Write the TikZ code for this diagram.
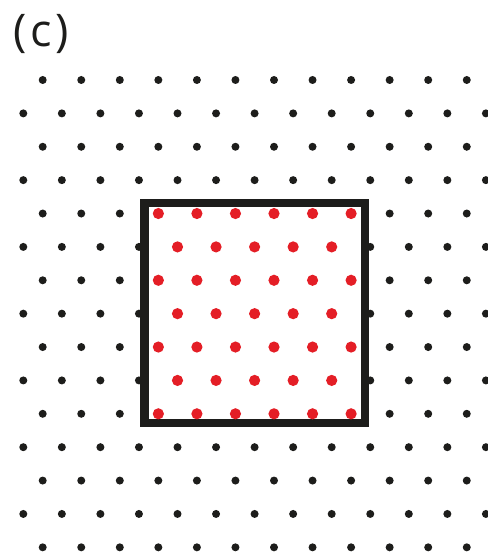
\documentclass[tikz,border=0pt]{standalone}
\usepackage{fontspec}
\setmainfont{Open Sans}
\definecolor{inkblack}{HTML}{1D1D1B}
\definecolor{inkred}{HTML}{E41E26}
\usetikzlibrary{positioning}
\tikzstyle{latticedot} = [fill=inkblack]
\tikzstyle{celldot} = [fill=inkred]
\tikzstyle{cellbox} = [
    draw=inkblack,
    line width=8.2pt,
    line join=miter
]
\tikzstyle{panellabel} = [
    inner sep=0pt,
    text=inkblack,
    font=\fontsize{45}{50}\selectfont\addfontfeature{LetterSpace=8}
]

\begin{document}
\begin{tikzpicture}[x=1pt, y=-1pt]
    \useasboundingbox (0,0) rectangle (487,556);

    % Panel label
    \node[panellabel, anchor=west] (label) at (13,34.5) {(c)};

    % Lattice, black sites
    \foreach \r in {0,...,14} {
        \pgfmathsetmacro{\yy}{80+33.38*\r}
        \pgfmathsetmacro{\xo}{mod(\r,2)==0 ? 42.7 : 23.3}
        \pgfmathtruncatemacro{\nmax}{mod(\r,2)==0 ? 11 : 12}
        \foreach \c in {0,...,\nmax} {
            \pgfmathsetmacro{\xx}{\xo+38.55*\c}
            \pgfmathtruncatemacro{\inside}{(\xx>145)&&(\xx<365)&&(\yy>203)&&(\yy<423)}
            \ifnum\inside=0
                \fill[latticedot] (\xx,\yy) circle (4pt);
            \fi
        }
    }

    % Unit cell
    \coordinate (cellnw) at (144.5,203.2);
    \coordinate (cellse) at (364.7,423.3);
    \draw[cellbox] (cellnw) rectangle (cellse);

    % Lattice, red sites inside the cell
    \foreach \r in {4,...,10} {
        \pgfmathsetmacro{\yy}{80+33.38*\r}
        \pgfmathsetmacro{\xo}{mod(\r,2)==0 ? 42.7 : 23.3}
        \pgfmathtruncatemacro{\nmax}{mod(\r,2)==0 ? 11 : 12}
        \foreach \c in {0,...,\nmax} {
            \pgfmathsetmacro{\xx}{\xo+38.55*\c}
            \pgfmathtruncatemacro{\inside}{(\xx>145)&&(\xx<365)}
            \ifnum\inside=1
                \fill[celldot] (\xx,\yy) circle (5.6pt);
            \fi
        }
    }
\end{tikzpicture}
\end{document}
